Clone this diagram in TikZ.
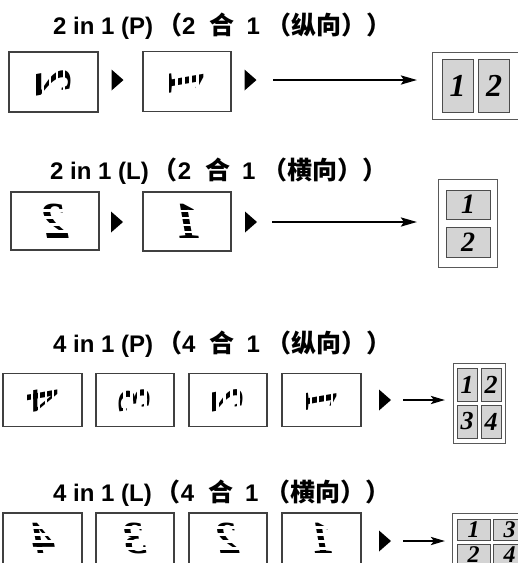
\documentclass[tikz,border=0pt]{standalone}
\usepackage{fontspec}
\setmainfont{Liberation Sans}
\newfontfamily\cjk{Noto Sans CJK SC}
\newfontfamily\digf{Liberation Serif}
\usetikzlibrary{arrows.meta}
\tikzset{
  ttl/.style={inner sep=0pt, anchor=base west, font=\fontsize{24}{28}\selectfont\bfseries},
  pagebox/.style={draw=black!75, line width=1.2pt, inner sep=0pt},
  outbox/.style={draw=black!65, line width=1pt, fill=white, inner sep=0pt},
  cell/.style={draw=black!70, line width=0.9pt, fill=black!17, inner sep=0pt},
  glyph/.style={inner sep=0pt, transform shape},
  arr/.style={line width=2.6pt, -{Stealth[length=16pt,width=9pt,inset=3pt]}},
  sarr/.style={line width=2.6pt, -{Stealth[length=14pt,width=8pt,inset=3pt]}},
  tri/.pic={\fill (-6,-10.5) -- (6,0) -- (-6,10.5) -- cycle;}
}
\newcommand\cjkpart[1]{{\cjk\fontsize{25}{28}\selectfont #1}}
% mirrored digit (landscape pages)
\newcommand\glL[4]{%
  \begin{scope}[shift={(#2)}, xscale=-1]
    \node[glyph, font=\digf\bfseries\itshape\fontsize{#4}{#4}\selectfont] (#1) at (0,0) {#3};
    \foreach \k in {-10.5,-3.5,3.5,10.5} \draw[white, line width=2.2pt] (-24,\k) -- (24,\k);
  \end{scope}}
% mirrored and rotated digit (portrait pages)
\newcommand\glP[4]{%
  \begin{scope}[shift={(#2)}, rotate=-90, xscale=-1]
    \node[glyph, font=\digf\bfseries\itshape\fontsize{#4}{#4}\selectfont] (#1) at (0,0) {#3};
    \foreach \k in {-10.5,-3.5,3.5,10.5} \draw[white, line width=2.2pt] (-24,\k) -- (24,\k);
  \end{scope}}
\newcommand\cellnum[1]{{\digf\bfseries\itshape #1}}
\newcommand\ttltext[3]{#1 in 1 (#2)\hspace{4pt}\cjkpart{（}#1\hspace{14pt}\cjkpart{合}\hspace{12pt}1\hspace{7pt}\cjkpart{（#3））}}
\begin{document}
\begin{tikzpicture}[x=1pt,y=-1pt]
\useasboundingbox (0,0) rectangle (518,563);
\clip (0,0) rectangle (518,563);

% ---------- Row 1: 2 in 1 (P)
\node[ttl] (h1) at (53,34) {\ttltext{2}{P}{纵向}};
\node[pagebox, minimum width=89pt, minimum height=60pt] (b11) at (53.5,82) {};
\node[pagebox, minimum width=88pt, minimum height=60pt] (b12) at (187,81.5) {};
\glP{g11}{b11.center}{2}{52}
\glP{g12}{b12.center}{1}{52}
\pic at (117.5,80) {tri};
\pic at (250.5,80) {tri};
\coordinate (s1) at (273,80);
\coordinate (e1) at (417,80);
\draw[arr] (s1) -- (e1);
\node[outbox, minimum width=88pt, minimum height=67pt] (r1) at (476,85.5) {};
\node[cell, minimum width=31pt, minimum height=53pt, font=\fontsize{32}{32}\selectfont] (r1a) at (457.5,85.5) {\cellnum{1}};
\node[cell, minimum width=31pt, minimum height=53pt, font=\fontsize{32}{32}\selectfont] (r1b) at (494,85.5) {\cellnum{2}};

% ---------- Row 2: 2 in 1 (L)
\node[ttl] (h2) at (50,179) {\ttltext{2}{L}{横向}};
\node[pagebox, minimum width=88pt, minimum height=58pt] (b21) at (55,221) {};
\node[pagebox, minimum width=88pt, minimum height=59pt] (b22) at (187,221.5) {};
\glL{g21}{b21.center}{2}{52}
\glL{g22}{b22.center}{1}{52}
\pic at (117,222) {tri};
\pic at (251,222) {tri};
\coordinate (s2) at (272,222);
\coordinate (e2) at (417,222);
\draw[arr] (s2) -- (e2);
\node[outbox, minimum width=59pt, minimum height=88pt] (r2) at (467.5,223) {};
\node[cell, minimum width=44pt, minimum height=29pt, font=\fontsize{28}{28}\selectfont] (r2a) at (468,204.5) {\cellnum{1}};
\node[cell, minimum width=44pt, minimum height=30pt, font=\fontsize{28}{28}\selectfont] (r2b) at (468,242) {\cellnum{2}};

% ---------- Row 3: 4 in 1 (P)
\node[ttl] (h3) at (53,352) {\ttltext{4}{P}{纵向}};
\node[pagebox, minimum width=79pt, minimum height=53pt] (b31) at (42.5,400) {};
\node[pagebox, minimum width=78pt, minimum height=53pt] (b32) at (135,400) {};
\node[pagebox, minimum width=78pt, minimum height=53pt] (b33) at (228,400) {};
\node[pagebox, minimum width=79pt, minimum height=53pt] (b34) at (321.5,400) {};
\glP{g31}{b31.center}{4}{46}
\glP{g32}{b32.center}{3}{46}
\glP{g33}{b33.center}{2}{46}
\glP{g34}{b34.center}{1}{46}
\pic at (385,400) {tri};
\coordinate (s3) at (403,400);
\coordinate (e3) at (445,400);
\draw[sarr] (s3) -- (e3);
\node[outbox, minimum width=52pt, minimum height=80pt] (r3) at (479,403) {};
\node[cell, minimum width=20pt, minimum height=33pt, font=\fontsize{26}{26}\selectfont] (r3a) at (467,384.5) {\cellnum{1}};
\node[cell, minimum width=20pt, minimum height=33pt, font=\fontsize{26}{26}\selectfont] (r3b) at (491,384.5) {\cellnum{2}};
\node[cell, minimum width=20pt, minimum height=33pt, font=\fontsize{26}{26}\selectfont] (r3c) at (467,421.5) {\cellnum{3}};
\node[cell, minimum width=20pt, minimum height=33pt, font=\fontsize{26}{26}\selectfont] (r3d) at (491,421.5) {\cellnum{4}};

% ---------- Row 4: 4 in 1 (L)
\node[ttl] (h4) at (53,501) {\ttltext{4}{L}{横向}};
\node[pagebox, minimum width=79pt, minimum height=53pt] (b41) at (42.5,539.5) {};
\node[pagebox, minimum width=78pt, minimum height=53pt] (b42) at (135,539.5) {};
\node[pagebox, minimum width=78pt, minimum height=53pt] (b43) at (228,539.5) {};
\node[pagebox, minimum width=79pt, minimum height=53pt] (b44) at (321.5,539.5) {};
\glL{g41}{[yshift=1.5pt]b41.center}{4}{46}
\glL{g42}{[yshift=1.5pt]b42.center}{3}{46}
\glL{g43}{[yshift=1.5pt]b43.center}{2}{46}
\glL{g44}{[yshift=1.5pt]b44.center}{1}{46}
\pic at (385,541) {tri};
\coordinate (s4) at (403,541);
\coordinate (e4) at (445,541);
\draw[sarr] (s4) -- (e4);
\node[outbox, minimum width=80pt, minimum height=60pt] (r4) at (492,543) {};
\node[cell, minimum width=33pt, minimum height=21pt, font=\fontsize{24}{24}\selectfont] (r4a) at (473.5,529.5) {\cellnum{1}};
\node[cell, minimum width=33pt, minimum height=21pt, font=\fontsize{24}{24}\selectfont] (r4b) at (509.5,529.5) {\cellnum{3}};
\node[cell, minimum width=33pt, minimum height=21pt, font=\fontsize{24}{24}\selectfont] (r4c) at (473.5,554.5) {\cellnum{2}};
\node[cell, minimum width=33pt, minimum height=21pt, font=\fontsize{24}{24}\selectfont] (r4d) at (509.5,554.5) {\cellnum{4}};
\end{tikzpicture}
\end{document}
